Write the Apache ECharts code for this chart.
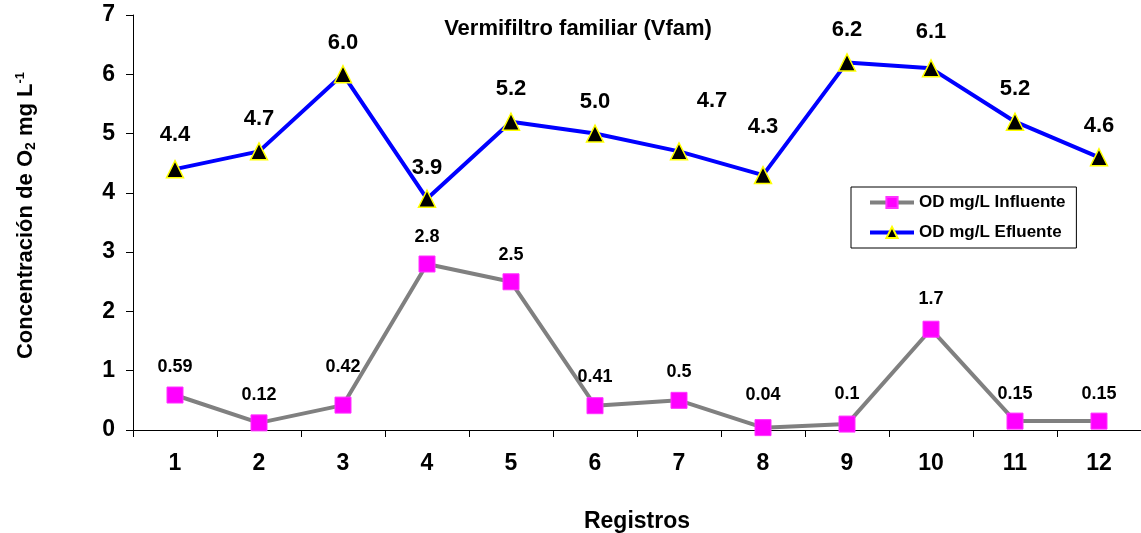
<!DOCTYPE html>
<html>
<head>
<meta charset="utf-8">
<script src="https://cdn.jsdelivr.net/npm/echarts@6/dist/echarts.min.js"></script>
<style>
  html, body { margin: 0; padding: 0; background: #fff; }
  #chart { width: 1141px; height: 533px; }
</style>
</head>
<body>
<div id="chart"></div>
<script>
// Registros (sampling events)
const categories = ['1', '2', '3', '4', '5', '6', '7', '8', '9', '10', '11', '12'];
// Dissolved oxygen, mg/L
const influente = [0.59, 0.12, 0.42, 2.8, 2.5, 0.41, 0.5, 0.04, 0.1, 1.7, 0.15, 0.15];
const efluente  = [4.4, 4.7, 6.0, 3.9, 5.2, 5.0, 4.7, 4.3, 6.2, 6.1, 5.2, 4.6];
// Label text as printed next to each point
const influenteLabels = ['0.59', '0.12', '0.42', '2.8', '2.5', '0.41', '0.5', '0.04', '0.1', '1.7', '0.15', '0.15'];
const efluenteLabels  = ['4.4', '4.7', '6.0', '3.9', '5.2', '5.0', '4.7', '4.3', '6.2', '6.1', '5.2', '4.6'];

// Label placement relative to each point centre [dx, dy]
const influenteLabelOffsets = [[0,-28],[0,-28],[0,-38],[0,-27],[0,-27],[0,-29],[0,-28],[0,-33],[0,-30],[0,-30],[0,-27],[0,-27]];
const efluenteLabelOffsets  = [[0,-34],[0,-32],[0,-31],[0,-31],[0,-33],[0,-32],[33,-50],[0,-48],[0,-32],[0,-36],[0,-33],[0,-31]];

const FONT = '"Liberation Sans", Arial, Helvetica, sans-serif';

function buildItems(values, labels, offsets, fontSize) {
  return values.map((v, i) => ({
    value: v,
    label: {
      show: true,
      position: 'inside',
      offset: offsets[i],
      formatter: labels[i],
      fontFamily: FONT,
      fontWeight: 'bold',
      fontSize: fontSize,
      color: '#000'
    }
  }));
}

const chart = echarts.init(document.getElementById('chart'), null, { renderer: 'canvas' });

chart.setOption({
  backgroundColor: '#fff',
  animation: false,
  title: {
    text: 'Vermifiltro familiar (Vfam)',
    left: 573,
    top: 13,
    textAlign: 'center',
    textStyle: { fontFamily: FONT, fontWeight: 'bold', fontSize: 22, color: '#000' }
  },
  legend: {
    orient: 'vertical',
    left: 851,
    top: 187,
    padding: [7, 11, 7, 17],
    itemGap: 13,
    itemWidth: 44,
    itemHeight: 14,
    borderColor: '#000',
    borderWidth: 1,
    lineStyle: { width: 4 },
    textStyle: { fontFamily: FONT, fontWeight: 'bold', fontSize: 17, color: '#000' },
    data: ['OD mg/L Influente', 'OD mg/L Efluente']
  },
  grid: { left: 133, right: 0, top: 15, bottom: 103, containLabel: false, outerBoundsMode: 'none' },
  xAxis: {
    type: 'category',
    data: categories,
    boundaryGap: true,
    name: 'Registros',
    nameLocation: 'middle',
    nameGap: 80,
    nameTextStyle: { fontFamily: FONT, fontWeight: 'bold', fontSize: 23, color: '#000' },
    axisLine: { lineStyle: { color: '#000', width: 1 } },
    axisTick: { show: true, length: 7, lineStyle: { color: '#000' } },
    axisLabel: { margin: 22, fontFamily: FONT, fontWeight: 'bold', fontSize: 23, color: '#000' },
    splitLine: { show: false }
  },
  yAxis: {
    type: 'value',
    min: 0,
    max: 7,
    interval: 1,
    name: 'Concentración de O{sub|2} mg L{sup|-1}',
    nameLocation: 'middle',
    nameGap: 95,
    nameRotate: 90,
    nameTextStyle: {
      fontFamily: FONT, fontWeight: 'bold', fontSize: 22, color: '#000',
      padding: [0, 0, 0, 14],
      rich: {
        sub: { fontFamily: FONT, fontWeight: 'bold', fontSize: 14, color: '#000', verticalAlign: 'bottom', padding: [9, 0, 0, 0] },
        sup: { fontFamily: FONT, fontWeight: 'bold', fontSize: 13, color: '#000', verticalAlign: 'top', padding: [0, 0, 11, 0] }
      }
    },
    axisLine: { show: true, lineStyle: { color: '#000', width: 1 } },
    axisTick: { show: true, length: 7, lineStyle: { color: '#000' } },
    axisLabel: { margin: 18, fontFamily: FONT, fontWeight: 'bold', fontSize: 23, color: '#000' },
    splitLine: { show: false }
  },
  series: [
    {
      name: 'OD mg/L Influente',
      type: 'line',
      data: buildItems(influente, influenteLabels, influenteLabelOffsets, 18),
      symbol: 'rect',
      symbolSize: 16,
      lineStyle: { color: '#808080', width: 4 },
      itemStyle: { color: '#FF00FF', borderColor: '#FF33FF', borderWidth: 1 },
      z: 2
    },
    {
      name: 'OD mg/L Efluente',
      type: 'line',
      data: buildItems(efluente, efluenteLabels, efluenteLabelOffsets, 22),
      symbol: 'triangle',
      symbolSize: 17,
      lineStyle: { color: '#0000FF', width: 4 },
      itemStyle: { color: '#000000', borderColor: '#FFFF00', borderWidth: 1.5 },
      z: 3
    }
  ]
});
</script>
</body>
</html>
